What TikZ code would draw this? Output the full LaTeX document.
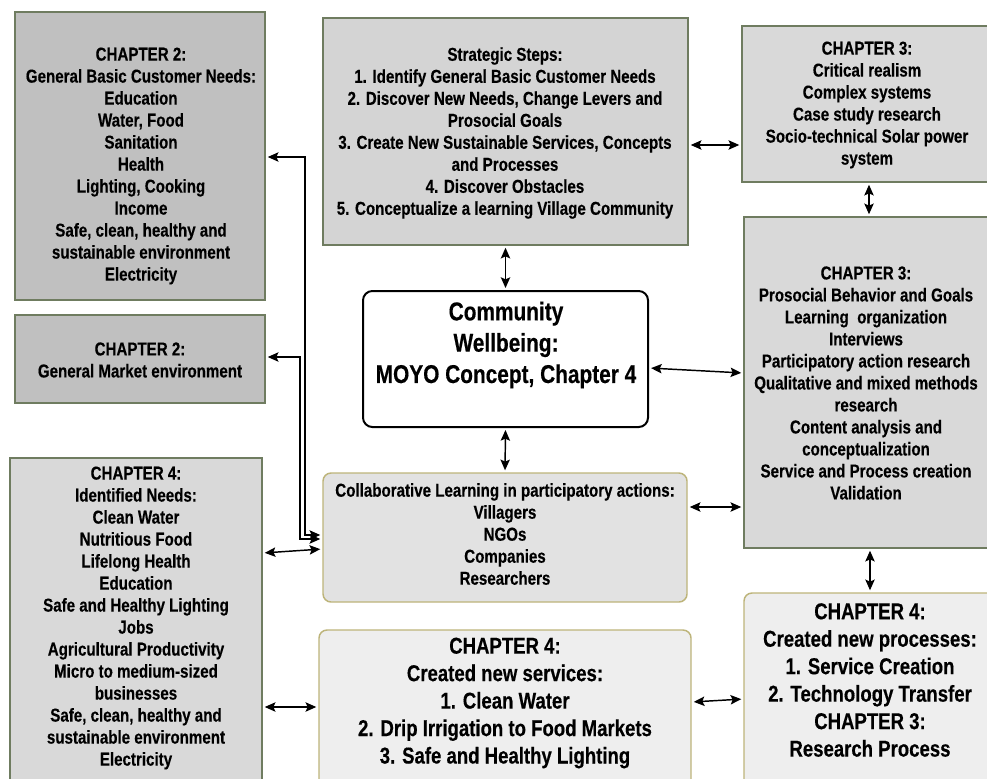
\documentclass[tikz,border=0pt]{standalone}
\usepackage{fontspec}
\setmainfont{Liberation Sans}[FakeStretch=0.81,BoldFeatures={FakeBold=0.35}]
\usetikzlibrary{fit,arrows.meta}

\definecolor{fillch2}{HTML}{C0C0C0}
\definecolor{fillstep}{HTML}{D4D4D4}
\definecolor{fillch3}{HTML}{D9D9D9}
\definecolor{fillcollab}{HTML}{E2E2E2}
\definecolor{fillresult}{HTML}{EEEEEE}
\definecolor{framegreen}{HTML}{6F7C60}
\definecolor{frameolive}{HTML}{BDB47A}

\begin{document}
\begin{tikzpicture}[x=0.75pt,y=-0.75pt,
  sq/.style={draw=framegreen, line width=1.1pt, inner sep=0pt},
  rnd/.style={draw=frameolive, line width=1.1pt, rounded corners=6pt, inner sep=0pt},
  hub/.style={draw=black, line width=1.5pt, rounded corners=7pt, inner sep=0pt, fill=white},
  txt/.style={align=center, inner sep=0pt, font=\fontsize{14}{16.5}\selectfont\bfseries},
  bigtxt/.style={align=center, inner sep=0pt, font=\fontsize{17.2}{20.6}\selectfont\bfseries},
  hubtxt/.style={align=center, inner sep=0pt, font=\fontsize{19.3}{23.5}\selectfont\bfseries},
  link/.style={line width=1.1pt, shorten <=1.5pt, shorten >=1.5pt,
    {Stealth[length=8pt,width=7pt,inset=1.5pt]}-{Stealth[length=8pt,width=7pt,inset=1.5pt]}}
]
\clip (0,0) rectangle (987,778);

% ---- boxes ----
\node[sq, fill=fillch2, fit={(15,12) (265,300)}] (needs) {};
\node[sq, fill=fillch2, fit={(15,315) (265,403)}] (market) {};
\node[sq, fill=fillch3, fit={(10,458) (262,800)}] (ident) {};
\node[sq, fill=fillstep, fit={(323,18) (688,245)}] (strat) {};
\node[sq, fill=fillch3, fit={(742,26) (995,182)}] (crit) {};
\node[sq, fill=fillch3, fit={(744,217) (995,548)}] (proso) {};
\node[hub, fit={(363,291) (648,427)}] (comm) {};
\node[rnd, fill=fillcollab, fit={(323,473) (687,602)}] (collab) {};
\node[rnd, fill=fillresult, fit={(319,630) (691,800)}] (serv) {};
\node[rnd, fill=fillresult, fit={(744,593) (1000,800)}] (proc) {};

% ---- texts ----
\node[txt] (needsT) at (141,166) {CHAPTER 2:\\General Basic Customer Needs:\\Education\\Water, Food\\Sanitation\\Health\\Lighting, Cooking\\Income\\Safe, clean, healthy and\\sustainable environment\\Electricity};
\node[txt] (marketT) at (140,360) {CHAPTER 2:\\General Market environment};
\node[txt] (identT) at (136,618) {CHAPTER 4:\\Identified Needs:\\Clean Water\\Nutritious Food\\Lifelong Health\\Education\\Safe and Healthy Lighting\\Jobs\\Agricultural Productivity\\Micro to medium-sized\\businesses\\Safe, clean, healthy and\\sustainable environment\\Electricity};
\node[txt] (stratT) at (505,133) {Strategic Steps:\\1. Identify General Basic Customer Needs\\2. Discover New Needs, Change Levers and\\Prosocial Goals\\3. Create New Sustainable Services, Concepts\\and Processes\\4. Discover Obstacles\\5. Conceptualize a learning Village Community};
\node[txt] (critT) at (867,105) {CHAPTER 3:\\Critical realism\\Complex systems\\Case study research\\Socio-technical Solar power\\system};
\node[txt] (prosoT) at (866,383) {CHAPTER 3:\\Prosocial Behavior and Goals\\Learning\ \ organization\\Interviews\\Participatory action research\\Qualitative and mixed methods\\research\\Content analysis and\\conceptualization\\Service and Process creation\\Validation};
\node[hubtxt] (commT) at (506,345) {Community\\Wellbeing:\\MOYO Concept, Chapter 4};
\node[txt] (collabT) at (505,534) {Collaborative Learning in participatory actions:\\Villagers\\NGOs\\Companies\\Researchers};
\node[bigtxt] (servT) at (505,703) {CHAPTER 4:\\Created new services:\\1. Clean Water\\2. Drip Irrigation to Food Markets\\3. Safe and Healthy Lighting};
\node[bigtxt] (procT) at (870,680) {CHAPTER 4:\\Created new processes:\\1. Service Creation\\2. Technology Transfer\\CHAPTER 3:\\Research Process};

% ---- connectors ----
\draw[link] (needs.east |- 0,157) -- (305,157) -- (305,535) -- (collab.west |- 0,535);
\draw[link] (market.east |- 0,357) -- (300,357) -- (300,539) -- (collab.west |- 0,539);
\draw[link] (ident.east |- 0,553) -- (collab.west |- 0,549);
\draw[link] (ident.east |- 0,707) -- (serv.west |- 0,707);
\draw[link] (strat.south) -- (comm.north);
\draw[link] (comm.south) -- (collab.north);
\draw[link] (strat.east |- 0,145) -- (crit.west |- 0,145);
\draw[link] (crit.south -| 869,0) -- (proso.north -| 869,0);
\draw[link] (comm.east |- 0,368) -- (proso.west |- 0,373);
\draw[link] (collab.east |- 0,507) -- (proso.west |- 0,507);
\draw[link] (proso.south -| 870,0) -- (proc.north -| 870,0);
\draw[link] (serv.east |- 0,702) -- (proc.west |- 0,699);
\end{tikzpicture}
\end{document}
